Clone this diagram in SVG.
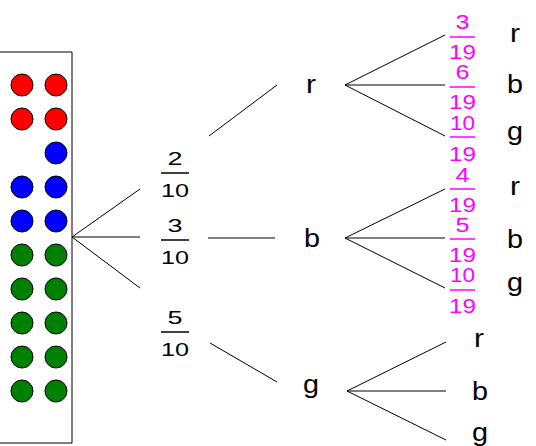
<svg xmlns="http://www.w3.org/2000/svg" width="536" height="446" viewBox="0 0 536 446">
<style>
.ln{stroke:#000;stroke-width:1;fill:none}
.ball{stroke:#000;stroke-width:1}
.r{fill:#ff0000}.b{fill:#0000ff}.g{fill:#008000}
.fk{font-family:"Liberation Sans",Arial,sans-serif;font-size:19px;fill:#000;text-anchor:middle}
.fm{font-family:"Liberation Sans",Arial,sans-serif;font-size:20px;fill:#ff00ff;text-anchor:middle}
.bk{stroke:#000;stroke-width:1.5}
.bm{stroke:#ff00ff;stroke-width:1.5}
.lt{font-family:"Liberation Sans",Arial,sans-serif;font-size:25px;fill:#000;text-anchor:middle}
</style>
<rect width="536" height="446" fill="#fff"/>
<g id="urn">
<path class="ln" d="M0 52H72V443H0"/>
<circle class="ball r" cx="22" cy="85" r="11"/><circle class="ball r" cx="56" cy="85" r="11"/>
<circle class="ball r" cx="22" cy="119" r="11"/><circle class="ball r" cx="56" cy="119" r="11"/>
<circle class="ball b" cx="56" cy="153" r="11"/>
<circle class="ball b" cx="22" cy="187" r="11"/><circle class="ball b" cx="56" cy="187" r="11"/>
<circle class="ball b" cx="22" cy="221" r="11"/><circle class="ball b" cx="56" cy="221" r="11"/>
<circle class="ball g" cx="22" cy="255" r="11"/><circle class="ball g" cx="56" cy="255" r="11"/>
<circle class="ball g" cx="22" cy="289" r="11"/><circle class="ball g" cx="56" cy="289" r="11"/>
<circle class="ball g" cx="22" cy="323" r="11"/><circle class="ball g" cx="56" cy="323" r="11"/>
<circle class="ball g" cx="22" cy="357" r="11"/><circle class="ball g" cx="56" cy="357" r="11"/>
<circle class="ball g" cx="22" cy="391" r="11"/><circle class="ball g" cx="56" cy="391" r="11"/>
</g>
<g id="connectors">
<path class="ln" d="M72 237L140 189M72 237H140M72 237L140 288"/>
<path class="ln" d="M209 136L277 85M208 238H275M210 343L277 382"/>
<path class="ln" d="M345 85L445 35M345 85H445M345 85L445 136"/>
<path class="ln" d="M345 238L445 189M345 238H445M345 238L445 288"/>
<path class="ln" d="M347 391L446 342M347 391H446M347 391L446 440"/>
</g>
<g id="p-r1">
<text class="fk" x="175" y="165" textLength="15" lengthAdjust="spacingAndGlyphs">2</text>
<line class="bk" x1="161" y1="173" x2="189" y2="173"/>
<text class="fk" x="175" y="197" textLength="28" lengthAdjust="spacingAndGlyphs">10</text>
</g>
<g id="p-b1">
<text class="fk" x="175" y="232" textLength="15" lengthAdjust="spacingAndGlyphs">3</text>
<line class="bk" x1="161" y1="240" x2="189" y2="240"/>
<text class="fk" x="175" y="264" textLength="28" lengthAdjust="spacingAndGlyphs">10</text>
</g>
<g id="p-g1">
<text class="fk" x="175" y="324" textLength="15" lengthAdjust="spacingAndGlyphs">5</text>
<line class="bk" x1="161" y1="332" x2="189" y2="332"/>
<text class="fk" x="175" y="356" textLength="28" lengthAdjust="spacingAndGlyphs">10</text>
</g>
<g id="node-r1"><text class="lt" x="311" y="93" textLength="10" lengthAdjust="spacingAndGlyphs">r</text></g>
<g id="node-b1"><text class="lt" x="312" y="247" textLength="16" lengthAdjust="spacingAndGlyphs">b</text></g>
<g id="node-g1"><text class="lt" x="311" y="393" textLength="16" lengthAdjust="spacingAndGlyphs">g</text></g>
<g id="p-rr">
<text class="fm" x="462.5" y="29" textLength="14" lengthAdjust="spacingAndGlyphs">3</text>
<line class="bm" x1="450" y1="37" x2="475" y2="37"/>
<text class="fm" x="462.5" y="59" textLength="27" lengthAdjust="spacingAndGlyphs">19</text>
</g>
<g id="p-rb">
<text class="fm" x="462.5" y="79" textLength="14" lengthAdjust="spacingAndGlyphs">6</text>
<line class="bm" x1="450" y1="87" x2="475" y2="87"/>
<text class="fm" x="462.5" y="109" textLength="27" lengthAdjust="spacingAndGlyphs">19</text>
</g>
<g id="p-rg">
<text class="fm" x="462.5" y="130" textLength="25" lengthAdjust="spacingAndGlyphs">10</text>
<line class="bm" x1="450" y1="137" x2="475" y2="137"/>
<text class="fm" x="462.5" y="161" textLength="27" lengthAdjust="spacingAndGlyphs">19</text>
</g>
<g id="p-br">
<text class="fm" x="462.5" y="182" textLength="14" lengthAdjust="spacingAndGlyphs">4</text>
<line class="bm" x1="450" y1="189" x2="475" y2="189"/>
<text class="fm" x="462.5" y="212" textLength="27" lengthAdjust="spacingAndGlyphs">19</text>
</g>
<g id="p-bb">
<text class="fm" x="462.5" y="232" textLength="14" lengthAdjust="spacingAndGlyphs">5</text>
<line class="bm" x1="450" y1="239" x2="475" y2="239"/>
<text class="fm" x="462.5" y="262" textLength="27" lengthAdjust="spacingAndGlyphs">19</text>
</g>
<g id="p-bg">
<text class="fm" x="462.5" y="282" textLength="25" lengthAdjust="spacingAndGlyphs">10</text>
<line class="bm" x1="450" y1="290" x2="475" y2="290"/>
<text class="fm" x="462.5" y="313" textLength="27" lengthAdjust="spacingAndGlyphs">19</text>
</g>
<g id="node-rr"><text class="lt" x="515" y="42" textLength="10" lengthAdjust="spacingAndGlyphs">r</text></g>
<g id="node-rb"><text class="lt" x="515" y="93" textLength="16" lengthAdjust="spacingAndGlyphs">b</text></g>
<g id="node-rg"><text class="lt" x="515" y="140" textLength="16" lengthAdjust="spacingAndGlyphs">g</text></g>
<g id="node-br"><text class="lt" x="515" y="195" textLength="10" lengthAdjust="spacingAndGlyphs">r</text></g>
<g id="node-bb"><text class="lt" x="515" y="248" textLength="16" lengthAdjust="spacingAndGlyphs">b</text></g>
<g id="node-bg"><text class="lt" x="515" y="291" textLength="16" lengthAdjust="spacingAndGlyphs">g</text></g>
<g id="node-gr"><text class="lt" x="479" y="347" textLength="10" lengthAdjust="spacingAndGlyphs">r</text></g>
<g id="node-gb"><text class="lt" x="480" y="400" textLength="16" lengthAdjust="spacingAndGlyphs">b</text></g>
<g id="node-gg"><text class="lt" x="480" y="441" textLength="16" lengthAdjust="spacingAndGlyphs">g</text></g>
</svg>
